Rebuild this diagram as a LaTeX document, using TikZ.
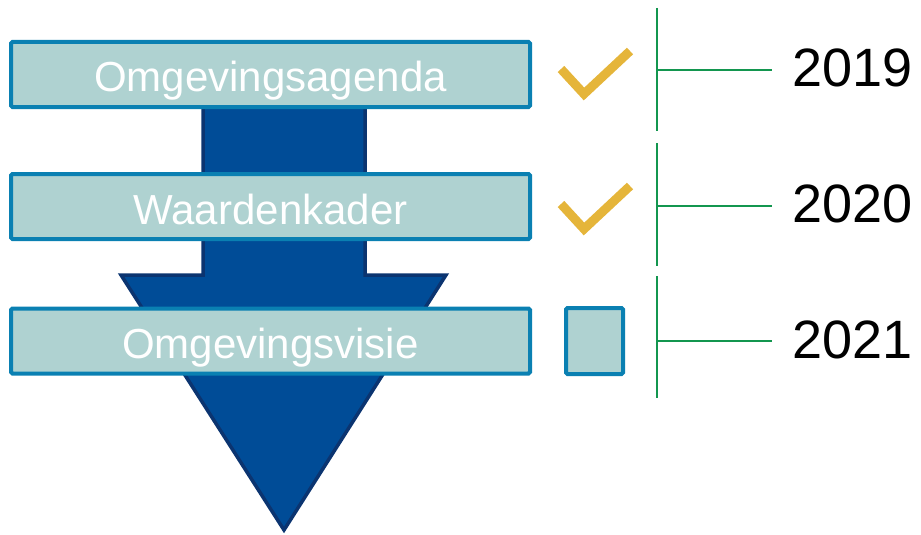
\documentclass[tikz,border=0pt]{standalone}
\usepackage{fontspec}
\setmainfont{Liberation Sans}
\usepackage{tikz}

\definecolor{boxfill}{HTML}{AFD2D1}
\definecolor{boxline}{HTML}{0A80B2}
\definecolor{arrowfill}{HTML}{004C97}
\definecolor{arrowline}{HTML}{0B3470}
\definecolor{tickgold}{HTML}{E5B53A}
\definecolor{linegreen}{HTML}{13964F}

\tikzset{
  phase/.style={draw=boxline, fill=boxfill, line width=4pt, rounded corners=1.5pt,
    minimum width=519pt, minimum height=65pt, inner sep=0pt, text=white,
    text height=35pt, text depth=0pt,
    font=\fontsize{42}{42}\selectfont},
  todo/.style={draw=boxline, fill=boxfill, line width=4pt, rounded corners=1.5pt,
    minimum width=57pt, minimum height=66pt, inner sep=0pt},
  tick/.style={draw=tickgold, line width=9pt},
  year/.style={anchor=west, inner sep=0pt, font=\fontsize{54}{54}\selectfont},
  timeline/.style={draw=linegreen, line width=2pt}
}

\begin{document}
\begin{tikzpicture}[x=1pt, y=-1pt]
\useasboundingbox (0,0) rectangle (921,535);

% big arrow behind the boxes
\draw[fill=arrowfill, draw=arrowline, line width=3.5pt, line join=miter]
  (203,100) -- (365,100) -- (365,275) -- (446,275) -- (284,530)
  -- (121,275) -- (203,275) -- cycle;

\node[phase] (agenda) at (270.5,74.5) {Omgevingsagenda};
\node[phase] (kader)  at (270.5,206.5) {Waardenkader};
\node[phase] (visie)  at (270.5,341) {Omgevingsvisie};

% status
\draw[tick] (561,69) -- (584,94) -- (630,51);
\draw[tick] (561,204) -- (584,229) -- (630,186);
\node[todo] (open) at (594.5,341) {};

% time line
\node[year] (y2019) at (792,68) {2019};
\node[year] (y2020) at (792,204) {2020};
\node[year] (y2021) at (792,340) {2021};

\draw[timeline] (657,8) -- (657,131);
\draw[timeline] (657,143) -- (657,266);
\draw[timeline] (657,276) -- (657,398);

\coordinate (t2019) at (657,70);
\coordinate (t2020) at (657,206);
\coordinate (t2021) at (657,341);
\draw[timeline] (t2019) -- ([xshift=-20pt]y2019.west |- t2019);
\draw[timeline] (t2020) -- ([xshift=-20pt]y2020.west |- t2020);
\draw[timeline] (t2021) -- ([xshift=-20pt]y2021.west |- t2021);

\end{tikzpicture}
\end{document}
